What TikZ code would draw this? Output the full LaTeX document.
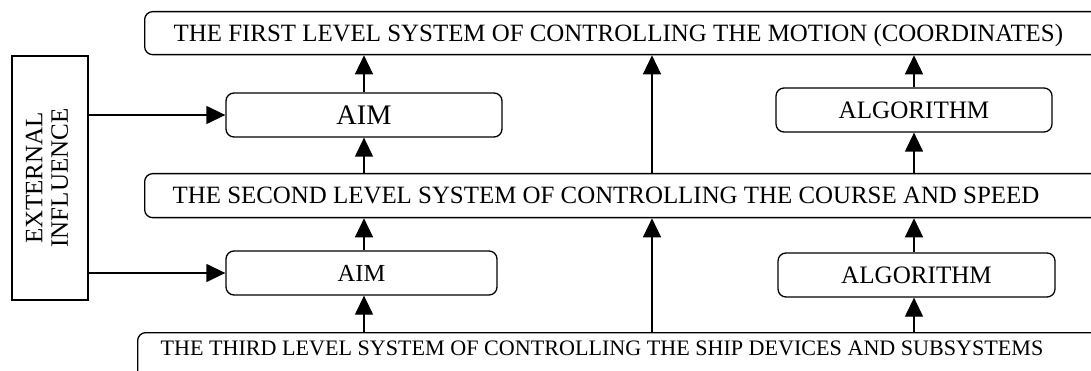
\documentclass[tikz,border=0pt]{standalone}
\usepackage{fontspec}
\usepackage{graphicx}
\setmainfont{Liberation Serif}
\usetikzlibrary{arrows.meta}

\begin{document}
\begin{tikzpicture}[x=1pt,y=-1pt,
  blk/.style={draw, line width=1.3pt, rounded corners=8pt, inner sep=0pt},
  wide/.style={blk, anchor=north west},
  arr/.style={line width=1.3pt, -{Triangle[width=18pt,length=19pt]}}]
\useasboundingbox (0,0) rectangle (1091,371);
\clip (0,0) rectangle (1091,371);
\node[wide, inner xsep=29pt, text height=29.75pt, text depth=13.25pt,
  font=\fontsize{24.9}{28}\selectfont] (lvlone) at (144,11)
  {\makebox[912pt][l]{THE FIRST LEVEL SYSTEM OF CONTROLLING THE MOTION (COORDINATES)}};
\node[wide, inner xsep=28pt, text height=30.25pt, text depth=13.75pt,
  font=\fontsize{24.9}{28}\selectfont] (lvltwo) at (144,173)
  {\makebox[920pt][l]{THE SECOND LEVEL SYSTEM OF CONTROLLING THE COURSE AND SPEED}};
\node[wide, inner xsep=23pt, text height=22.5pt, text depth=47.5pt,
  font=\fontsize{22.1}{26}\selectfont] (lvlthree) at (137,332)
  {\makebox[927pt][l]{THE THIRD LEVEL SYSTEM OF CONTROLLING THE SHIP DEVICES AND SUBSYSTEMS}};
\node[blk, minimum width=276pt, minimum height=44pt, font=\fontsize{28.3}{30}\selectfont]
  (aimone) at (364,115) {AIM};
\node[blk, minimum width=271pt, minimum height=44pt, font=\fontsize{24.5}{28}\selectfont]
  (aimtwo) at (361.5,273) {AIM};
\node[blk, minimum width=276pt, minimum height=44pt, font=\fontsize{25.1}{28}\selectfont]
  (algone) at (914,110) {ALGORITHM};
\node[blk, minimum width=277pt, minimum height=44pt, font=\fontsize{25.1}{28}\selectfont]
  (algtwo) at (916.5,275) {ALGORITHM};
\node[draw, line width=1.3pt, minimum width=76pt, minimum height=244pt, inner sep=0pt,
  font=\fontsize{25}{25.5}\selectfont] (ext) at (50,178)
  {\rotatebox{90}{\begin{tabular}{@{}c@{}}EXTERNAL\\INFLUENCE\end{tabular}}};
\coordinate (mid) at (652,200);
\draw[arr] (aimone.north) -- (aimone.north |- lvlone.south);
\draw[arr] (lvltwo.north -| aimone) -- (aimone.south);
\draw[arr] (aimtwo.north -| aimone) -- (lvltwo.south -| aimone);
\draw[arr] (lvlthree.north -| aimone) -- (aimtwo.south -| aimone);
\draw[arr] (lvltwo.north -| mid) -- (lvlone.south -| mid);
\draw[arr] (lvlthree.north -| mid) -- (lvltwo.south -| mid);
\draw[arr] (algone.north) -- (algone.north |- lvlone.south);
\draw[arr] (lvltwo.north -| algone) -- (algone.south);
\draw[arr] (algtwo.north -| algone) -- (lvltwo.south -| algone);
\draw[arr] (lvlthree.north -| algone) -- (algtwo.south -| algone);
\draw[arr] (ext.east |- aimone) -- (aimone.west);
\draw[arr] (ext.east |- aimtwo) -- (aimtwo.west);
\end{tikzpicture}
\end{document}
